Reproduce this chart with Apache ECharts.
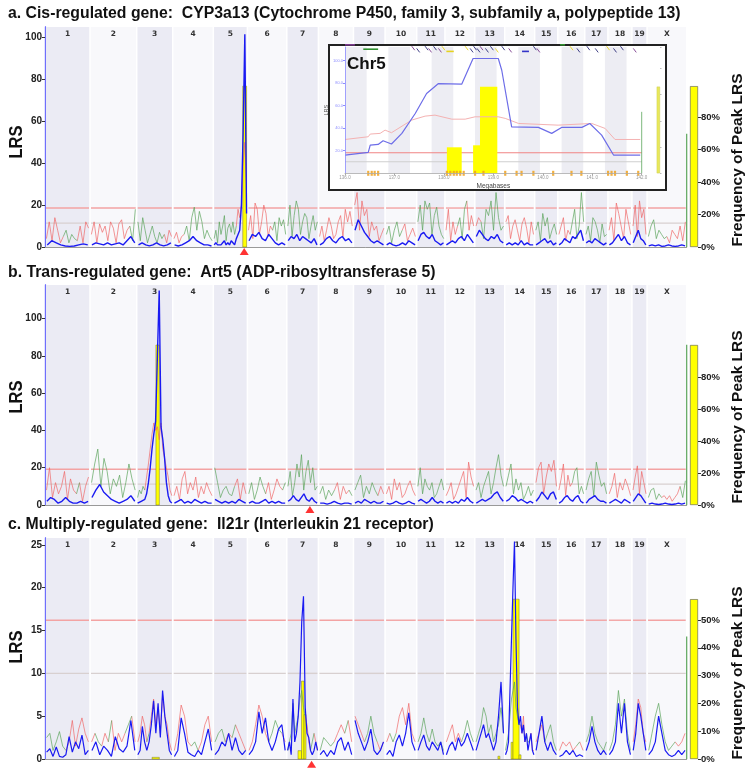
<!DOCTYPE html>
<html><head><meta charset="utf-8">
<script src="https://cdn.jsdelivr.net/npm/echarts@6/dist/echarts.min.js"></script>
<style>html,body{margin:0;padding:0;background:#fff}#c{width:750px;height:773px}</style>
</head><body><div id="c"></div>
<script>
// ---------------- data ----------------
const chromosomes = ['1','2','3','4','5','6','7','8','9','10','11','12','13','14','15','16','17','18','19','X'];
const chrLen = [185,192,148,167,140,162,130,144,130,130,116,123,123,123,95,111,95,99,62,163];

const titleA = 'a. Cis-regulated gene:  CYP3a13 (Cytochrome P450, family 3, subfamily a, polypeptide 13)';
const titleB = 'b. Trans-regulated gene:  Art5 (ADP-ribosyltransferase 5)';
const titleC = 'c. Multiply-regulated gene:  Il21r (Interleukin 21 receptor)';

// Panel a: LRS (blue) and additive effect (signed: + red, - green) per chromosome
const lrsA = [
 [1,3,2,1,0.5,0.3,0.5,1,1.5,1],
 [1,2,1.5,1,2,1,1.5,2,1,3,5,2],
 [1,2,1,0.5,1,2,1,0.5,1,2],
 [1,0.5,1,2,3,5,3,2,1,1,0.5],
 [1,2,1,0.5,1,2,3,1,2,1,3,2,1,4,6,8,20,55,101.5,16],
 [3,6,5,7,4,3,6,4,2,1,2,1],
 [3,5,4,6,3,5,4,3,2,4,1],
 [1,2,4,5,3,2,4,5,3,4,2],
 [8,13,10,7,5,3,2,3,2,1],
 [1,2,1,0.5,1,2,1,3,2,1],
 [3,6,7,5,4,6,3,2,1,2],
 [1,2,3,2,4,5,3,6,4,2],
 [5,8,6,4,3,5,4,6,3,2],
 [1,2,1,2,1,3,1,2,1,1],
 [1,2,3,4,2,3,1,2],
 [1,2,4,3,2,5,4,6,8,3],
 [2,3,2,4,3,2,1,2],
 [1,2,4,6,3,5,2,1],
 [2,5,8,4,3,1],
 [0.5,1,0.5,1,0.3,0.5,1,0.5,0.3,0.5,1,0.5]
];
const addA = [
 [4,12,3,14,8,2,-5,-8,-2,-6,-4,3,10,2,12,9],
 [6,12,2,11,7,10,3,12,9,2,11,13,4,8,-10,-3,-18],
 [-12,-3,-14,-8,-2,-6,-10,-5,-2,-7,-4,6,2,8,5],
 [4,7,2,5,-6,-10,-3,-14,-19,-8,-17,-12,-4,-8,-5,-3],
 [-4,-8,-2,-12,-6,-10,-15,-3,-9,-11,-7,-12,-6,10,18,14,20,40,50,30],
 [8,15,4,21,18,6,12,20,16,5,10,-8,-12,-3,-14,-10,-13,-6],
 [-10,-20,-5,-15,-22,-18,-6,-12,-16,-14,-4,-10,-15,-8,-12],
 [5,10,3,8,14,10,4,6,12,15,5,18,12,17,10],
 [20,26,8,22,15,18,5,12,8,10,3,6,9],
 [-6,-10,-2,-8,-12,-5,8,11,3,6,9,5],
 [-12,-20,-8,-22,-18,-21,-6,-15,-19,-10,-6,-4],
 [8,18,3,12,6,-10,-14,-4,-18,22,8,15,10],
 [10,14,-12,-4,-18,-15,-22,-8,-26,-14,-8,-10],
 [12,15,4,10,13,8,3,11,14,9,2,12,6],
 [-8,-12,-3,-16,-10,-14,-4,-8,-11,-6],
 [6,10,14,3,8,-6,-12,-18,-4,-10,-26,-12],
 [-6,-10,-3,-14,-12,-8,-2,-11,-5,6],
 [8,14,3,21,16,10,4,18,12,6],
 [10,20,5,22,14,18,6],
 [-5,-10,-13,-4,-8,-6,-4,5,2,8,6,4,10,3,12]
];
const peakBarsA = [[813,829,99]];      // [from, to, frequency %]
const sideFreqA = 99;
const edgeA = 54;
const markerA = 819;
const thrA = [18.6, 11.4];

// Panel b
const lrsB = [
 [2,4,3,1,2,4,2,1,1,2,1,2],
 [4,8,11,7,5,3,2,1,2,3,5,2],
 [1,1,2,1,3,6,12,20,30,38,45,80,115,42,35,25,12,5,2,1],
 [1,2,3,1,2,1,3,2,1,2,1,1],
 [3,2,1,2,1,2,1,3,2,1],
 [1,2,1,1,2,3,1,2,1,2,1,1],
 [2,3,5,3,2,4,6,3,2,4,2,1],
 [1,1,0.5,1,2,1,0.5,1,1,0.5],
 [1,2,1,3,2,1,2,1,1,2],
 [1,0.5,1,2,1,0.5,1,2,1,0.5],
 [2,3,2,1,2,4,2,1,2,1],
 [1,2,1,2,1,3,2,4,2,1],
 [1,2,3,2,3,4,6,7,4,2],
 [2,3,5,4,2,3,2,1,2,1],
 [2,4,7,5,3,6,7,3],
 [1,2,4,5,3,2,4,5,2,1],
 [1,3,4,5,3,2,2,1],
 [1,2,3,2,1,3,2,1],
 [2,4,6,5,3,1],
 [0.5,1,0.5,0.3,0.5,1,0.5,0.3,0.5,1,0.5,1]
];
const addB = [
 [8,20,4,12,6,10,18,3,14,8,-6,12,2,10,15],
 [-12,-22,-30,-10,-25,-18,-6,-14,-10,-16,-4,-12,-22,-14,-8],
 [-4,-8,-6,-10,8,15,22,30,38,44,40,42,35,44,30,25,20,15,8,5],
 [5,10,3,14,18,6,12,8,15,4,10,6,12,8,5],
 [-20,-12,-4,-8,-10,-6,-5,10,14,3,12,6],
 [-6,-12,-3,-8,-15,-10,6,12,3,8,14,10,-8,-12],
 [-10,-18,-5,-12,-22,-15,-27,-8,-18,-24,-12,-20,-8,-10],
 [-6,-10,-3,-8,-5,8,12,3,10,6,-8,-5],
 [-8,-12,-16,-4,-10,-6,-12,-8,5,10,6],
 [6,10,3,14,8,12,4,6,10,13,8,5],
 [-10,-20,-6,-14,-10,-8,-12,-4,-6,-10,-14,-8],
 [5,8,12,3,6,10,14,18,4,23,15,10],
 [-8,-12,-4,-10,-14,-18,-6,-12,-20,-27,-16,-10],
 [-10,-16,-22,-6,-14,-8,-12,-3,-6,-10,-5,-8],
 [12,20,23,6,15,22,18,24,10],
 [8,14,22,5,16,10,-12,-18,-20,-6,-10,-6],
 [-8,-14,-18,-5,-23,-16,-10,-12,-6],
 [6,10,17,4,12,8,14,10,5],
 [8,15,21,6,18,12,6],
 [-4,-8,-9,-3,-6,4,5,3,5,2,4,6,-10,-4,-13]
];
const peakBarsB = [[456,470,100]];
const sideFreqB = 100;
const edgeB = 86;
const markerB = 1089;
const thrB = [19.2, 11.2];

// Panel c
const lrsC = [
 [0.8,1.2,0.3,1.4,0.3,0.2,0.5,2.6,0.8,2,1.2,2.8,0.5,1],
 [1,2,0.5,1.5,1,0.3,2.6,1.2,0.8,1.5,4.5,1],
 [0.5,1,3.8,2,1,2,4,6.8,3,6.5,2.5,8,5,3,1,0.5],
 [0.3,1,4.8,3,0.8,0.5,0.3,1,0.5,2,3.5,1],
 [0.5,1,2,1.5,3,1,2.5,1,0.5,1],
 [0.5,1,2,5.5,3,4.8,2,1,2,3.5,4,1],
 [1,2,0.5,7,2,3,5,9,16,19,6,3,2.5,1,0.5,1,2,1],
 [0.5,1,0.3,1,0.5,2,2.5,1,2,0.5],
 [4.5,3,2,1,2,3.5,1,0.5,1,2],
 [0.5,1,0.3,2,2.8,1.5,3,5.4,2,1],
 [1,2,2.8,1.5,1,2,1.5,1,2,0.5],
 [0.5,1.5,2,1,2.5,1.5,2,3,2,1],
 [1,2,3,4,2.5,3,2,1,2,5,9,3],
 [0.5,1,2,8,14,20,25.4,14,6,4,5,3,4,2,3,1,2,3,1,0.5],
 [1,3,5,2,1,2,1,0.5],
 [0.3,0.5,1,0.5,1,0.3,0.5,0.3],
 [1,2,3.8,2,1,0.5,1,0.5],
 [0.5,1,2,6.5,3,6.5,2,0.5],
 [1,3,6.5,5,3,1],
 [0.5,1,2,5,3,1,0.5,0.3,0.5,1,0.5,1]
];
const addC = [
 [-2.5,-3,-1,-2,-3.2,-1.5,1,2,4.5,1.5,3.5,4.8,3,2],
 [2,-3,-2,1.5,3,-2,4.5,1,3,2,-3,-4,5,2],
 [2,3,5,4,-2,3,5,7,4,6,3,7.5,5,4,2,1],
 [1,3,6.3,5,2,-1.5,-2,1,2,4,5,2],
 [-2,-3,-3.5,2,3,-2.5,4,3,2,1],
 [1,2,4,6.3,5,3,-2,-3,-4.5,-3.5,3,2],
 [-1,-2,-3,-6.5,-3,-4,-5,-7,-8,-6,5,4,2,-1,-2,3,2,1],
 [-1,-2.5,-2,-1.5,2,3,4,-3,4.5,2],
 [5,4,3,-2,-3,-5,-3,2,1,-2],
 [2,-3,-2,3,5,6,4,6.5,3,2],
 [-2,-3,-4.8,-3,-2,-3.5,-2,-1.5,-2,-1],
 [2,3,4,2,3,-2,-3,-4.5,-3,-2],
 [-2,-3,-4,-6,-5,-3,-4,-2,-3,-4,-6,-3],
 [-1,-2,-3,-5,-7,-8,-9,-6,-5,-4,4,3,5,2,-3,-2,2,3,1,1],
 [2,3,4,-2,-3,-4,-2,-1],
 [1,2,1.5,2,1,-1.5,2,1],
 [-2,-3,-5,-3,-2,-1.5,-1,-2],
 [-1,-2,-4,-8,-5,-7,-3,-1],
 [2,4,7,6,3,2],
 [-1,-3,-5,-6.5,-4,-2,-1,-1.5,2,1.5,2,3]
];
const peakBarsC = [[440,470,0.6],[1040,1054.5,3],[1054.5,1065,28],[1065,1073,16],[1862,1870,1],[1916,1924,6],[1924,1949,57.5],[1949,1957,1.5]];
const sideFreqC = 57.5;
const edgeC = 14.3;
const markerC = 1096;
const thrC = [16.2, 10];

const lrsTicksAB = [0,20,40,60,80,100];
const lrsTicksC = [0,5,10,15,20,25];
const freqTicksAB = [0,20,40,60,80];
const freqTicksC = [0,10,20,30,40,50];

// Inset (Chr5 detail of panel a)
const insetLrsMb = [136.0,136.47,136.51,136.67,136.77,136.94,137.15,137.42,137.65,137.89,138.36,138.59,139.10,139.17,139.37,139.91,140.18,140.38,140.79,140.95,141.19,141.43,141.97];
const insetLrs   = [16.2,18.6,25,25.6,28.9,26,35.4,53,70.8,79.6,79,101.8,101.8,91.4,41.2,40.7,35.4,40.7,40.7,44.2,33.9,16.2,16.2];
const insetAddMb = [136.0,136.47,136.51,136.71,136.81,136.94,137.35,137.62,137.82,138.16,138.43,138.63,139.10,139.24,139.51,140.31,140.99,141.26,141.46,141.97];
const insetAdd   = [30,32.4,34.8,35.4,38.3,36,47.2,50.7,51.6,48,48,50.1,50.1,48.7,44.2,42.7,44.2,39.8,30,30];
const insetBars  = [[138.06,138.36,29.7],[138.59,138.73,32],[138.73,139.08,99]];
const insetThr   = [18.2, 10.3];
const insetSnpMb = [136.47,136.54,136.6,136.67,138.06,138.13,138.2,138.26,138.33,138.4,138.63,138.8,139.24,139.47,139.57,139.81,140.21,140.58,140.78,141.32,141.39,141.46,141.7,141.93];
const insetEdge  = 54.5;
const insetSideFreq = 99;
const insetTicksMb = [136,137,138,139,140,141,142];
// genes drawn in the track above the inset plot: [Mb start, Mb end, row, colour index, kind(0 = slanted, 1 = bar)]
const insetGenes = [
 [136.0,136.2,0,1,1],[136.37,136.67,2,4,1],[137.38,137.38,1,1,0],[137.48,137.48,2,0,0],[137.65,137.65,1,0,0],
 [137.72,137.72,2,1,0],[137.82,137.82,1,0,0],[137.92,137.92,2,1,0],[137.99,137.99,1,2,0],[138.05,138.2,3,2,1],
 [138.46,138.46,1,2,0],[138.56,138.56,2,0,0],[138.63,138.63,1,0,0],[138.70,138.70,2,0,0],[138.76,138.76,1,1,0],
 [138.87,138.87,2,0,0],[138.97,138.97,1,0,0],[139.07,139.07,2,2,0],[139.20,139.20,1,0,0],[139.34,139.34,2,1,0],
 [139.58,139.72,3,3,1],[139.84,139.84,1,0,0],[139.91,139.91,2,1,0],[140.35,140.45,0,4,1],[140.58,140.58,1,2,0],
 [140.72,140.72,2,0,0],[140.92,140.92,1,0,0],[141.09,141.09,2,0,0],[141.32,141.32,1,2,0],[141.46,141.46,2,0,0],
 [141.60,141.60,1,0,0],[141.86,141.86,2,1,0]
];
const geneColors = ['#2b2b78','#7a3a8c','#e6d21e','#3434c8','#2f8f2f'];

// ---------------- helpers ----------------
const chrStart = []; let acc = 0;
chrLen.forEach(l => { chrStart.push(acc); acc += l; });
const genomeLen = acc;
const FONT = 'Liberation Sans';

function blueData(arrs) {
  const out = [];
  arrs.forEach((vals, k) => {
    const s = chrStart[k], L = chrLen[k], N = vals.length;
    vals.forEach((v, i) => out.push([s + (i + 0.5) / N * L, v]));
    out.push([s + L, '-']);
  });
  return out;
}
function addData(arrs, positive) {
  const out = [];
  arrs.forEach((vals, k) => {
    const s = chrStart[k], L = chrLen[k], N = vals.length;
    const xs = vals.map((v, i) => s + (i + 0.5) / N * L);
    let open = false;
    for (let i = 0; i < N - 1; i++) {
      const mine = positive ? vals[i] > 0 : vals[i] < 0;
      if (mine) {
        if (!open) { out.push([xs[i], Math.abs(vals[i])]); open = true; }
        out.push([xs[i + 1], Math.abs(vals[i + 1])]);
      } else if (open) { out.push([xs[i], '-']); open = false; }
    }
    if (open) out.push([s + L, '-']);
  });
  return out;
}
const chrRows = chromosomes.map((c, k) => [chrStart[k], chrStart[k] + chrLen[k], k]);

function bandsRender(thr, yMax) {
  return function (params, api) {
    const s = api.value(0), e = api.value(1), k = api.value(2);
    const tl = api.coord([s, yMax]), br = api.coord([e, 0]);
    const children = [{ type: 'rect', shape: { x: tl[0] + 0.75, y: tl[1], width: br[0] - tl[0] - 1.5, height: br[1] - tl[1] },
      style: { fill: k % 2 === 0 ? '#ebebf4' : '#f8f8fb' } }];
    thr.forEach((t, j) => {
      const y = api.coord([s, t])[1];
      children.push({ type: 'line', shape: { x1: tl[0] + 1, y1: y, x2: br[0] - 1, y2: y },
        style: { stroke: j === 0 ? '#f3a3a3' : '#d8d0d0', lineWidth: 1.4 } });
    });
    children.push({ type: 'text', style: { text: chromosomes[k], x: (tl[0] + br[0]) / 2, y: tl[1] + 3,
      align: 'center', verticalAlign: 'top', fontFamily: 'DejaVu Sans', fontWeight: 'bold', fontSize: 7.5, fill: '#333' } });
    return { type: 'group', children };
  };
}
function barsRender(params, api) {
  const a = api.coord([api.value(0), api.value(2)]), b = api.coord([api.value(1), 0]);
  return { type: 'rect', shape: { x: a[0], y: a[1], width: b[0] - a[0], height: b[1] - a[1] },
    style: { fill: '#ffff00', stroke: '#76762a', lineWidth: 0.5 } };
}

const panels = [
  { top: 27, height: 220, yMax: 105, freqMax: 135.4, lrs: lrsA, add: addA, bars: peakBarsA, side: sideFreqA, edge: edgeA,
    marker: markerA, markerY: -2.1, thr: thrA, lrsTicks: lrsTicksAB, freqTicks: freqTicksAB, title: titleA, titleY: 14, lrsY: 142, fplY: 160, blueW: 1.4 },
  { top: 285, height: 220, yMax: 118, freqMax: 137.5, lrs: lrsB, add: addB, bars: peakBarsB, side: sideFreqB, edge: edgeB,
    marker: markerB, markerY: -2.4, thr: thrB, lrsTicks: lrsTicksAB, freqTicks: freqTicksAB, title: titleB, titleY: 273, lrsY: 397, fplY: 417, blueW: 1.4 },
  { top: 538, height: 221, yMax: 25.8, freqMax: 79.5, lrs: lrsC, add: addC, bars: peakBarsC, side: sideFreqC, edge: edgeC,
    marker: markerC, markerY: -0.6, thr: thrC, lrsTicks: lrsTicksC, freqTicks: freqTicksC, title: titleC, titleY: 525, lrsY: 647, fplY: 673, blueW: 1.2 }
];

const grid = [], xAxis = [], yAxis = [], series = [], graphic = [];
panels.forEach((p, i) => {
  const gMain = grid.length;
  grid.push({ left: 45, top: p.top, width: 641.7, height: p.height });
  grid.push({ left: 690, top: p.top, width: 8, height: p.height });
  const xMain = xAxis.length;
  xAxis.push({ gridIndex: gMain, type: 'value', min: 0, max: genomeLen, axisLine: { show: true, lineStyle: { color: '#999', width: 1 } },
    axisTick: { show: false }, axisLabel: { show: false }, splitLine: { show: false } });
  xAxis.push({ gridIndex: gMain + 1, type: 'category', data: ['max'], show: false });
  const yL = yAxis.length;
  yAxis.push({ gridIndex: gMain, type: 'value', min: 0, max: p.yMax,
    axisLine: { show: true, lineStyle: { color: '#4646ff', width: 1.3 } },
    axisTick: { show: true, length: 3, customValues: p.lrsTicks, lineStyle: { color: '#333' } },
    axisLabel: { customValues: p.lrsTicks, fontFamily: FONT, fontWeight: 'bold', fontSize: 10, color: '#222', margin: 3 },
    splitLine: { show: false } });
  yAxis.push({ gridIndex: gMain, type: 'value', min: 0, max: p.freqMax, show: false });
  yAxis.push({ gridIndex: gMain + 1, type: 'value', min: 0, max: p.freqMax, position: 'right',
    axisLine: { show: false },
    axisTick: { show: true, length: 3, customValues: p.freqTicks, lineStyle: { color: '#333' } },
    axisLabel: { customValues: p.freqTicks, formatter: '{value}%', fontFamily: FONT, fontWeight: 'bold', fontSize: 9.5, color: '#222', margin: 3 },
    splitLine: { show: false } });

  series.push({ type: 'custom', xAxisIndex: xMain, yAxisIndex: yL, data: chrRows, encode: { x: [0, 1], y: 2 },
    renderItem: bandsRender(p.thr, p.yMax), silent: true, z: 1 });
  series.push({ type: 'custom', xAxisIndex: xMain, yAxisIndex: yL + 1, data: p.bars, encode: { x: [0, 1], y: 2 },
    renderItem: barsRender, silent: true, z: 2 });
  series.push({ type: 'line', name: 'additive +', xAxisIndex: xMain, yAxisIndex: yL, data: addData(p.add, true),
    symbol: 'none', connectNulls: false, lineStyle: { color: '#ee6464', width: 0.8, opacity: 0.85 }, z: 3, silent: true });
  series.push({ type: 'line', name: 'additive -', xAxisIndex: xMain, yAxisIndex: yL, data: addData(p.add, false),
    symbol: 'none', connectNulls: false, lineStyle: { color: '#58a258', width: 0.8, opacity: 0.85 }, z: 3, silent: true });
  series.push({ type: 'line', name: 'LRS', xAxisIndex: xMain, yAxisIndex: yL, data: blueData(p.lrs),
    symbol: 'none', connectNulls: false, lineStyle: { color: '#1a1af2', width: p.blueW }, z: 4, silent: true });
  series.push({ type: 'line', xAxisIndex: xMain, yAxisIndex: yL, data: [[genomeLen, 0], [genomeLen, p.edge]], clip: false,
    symbol: 'none', lineStyle: { color: '#5aa55a', width: 1.2 }, z: 4, silent: true });
  series.push({ type: 'scatter', xAxisIndex: xMain, yAxisIndex: yL, data: [[p.marker, p.markerY]], clip: false,
    symbol: 'triangle', symbolSize: [9, 7], itemStyle: { color: '#ff0000' }, z: 5, silent: true });
  series.push({ type: 'bar', xAxisIndex: xMain + 1, yAxisIndex: yL + 2, data: [p.side], barWidth: '100%',
    itemStyle: { color: '#ffff00', borderColor: '#555', borderWidth: 0.6 }, silent: true });

  graphic.push({ type: 'text', x: 8, y: p.titleY, style: { text: p.title, x: 0, y: 0, textVerticalAlign: 'middle',
    fontFamily: FONT, fontWeight: 'bold', fontSize: 15.8, fill: '#111' } });
  graphic.push({ type: 'text', x: 17, y: p.lrsY, rotation: Math.PI / 2, scaleX: 0.92, style: { text: 'LRS', x: 0, y: 0,
    textAlign: 'center', textVerticalAlign: 'middle', fontFamily: FONT, fontWeight: 'bold', fontSize: 18, fill: '#111' } });
  graphic.push({ type: 'text', x: 738, y: p.fplY, rotation: Math.PI / 2, style: { text: 'Frequency of Peak LRS', x: 0, y: 0,
    textAlign: 'center', textVerticalAlign: 'middle', fontFamily: FONT, fontWeight: 'bold', fontSize: 15.5, fill: '#111' } });
});

// ---------------- inset ----------------
const gIn = grid.length;
grid.push({ left: 345, top: 47, width: 296.7, height: 126.3 });
grid.push({ left: 656.7, top: 47, width: 3.3, height: 126.3 });
const xIn = xAxis.length;
xAxis.push({ gridIndex: gIn, type: 'value', min: 136, max: 142, z: 70,
  axisLine: { show: true, lineStyle: { color: '#aaa', width: 0.8 } },
  axisTick: { show: true, length: 2, customValues: insetTicksMb, lineStyle: { color: '#aaa' } },
  axisLabel: { customValues: insetTicksMb, formatter: v => v.toFixed(1), fontSize: 4.5, color: '#999', margin: 2 },
  name: 'Megabases', nameLocation: 'middle', nameGap: 9, nameTextStyle: { fontSize: 6.5, color: '#444', fontFamily: FONT },
  splitLine: { show: false } });
xAxis.push({ gridIndex: gIn + 1, type: 'category', data: ['max'], show: false });
const yIn = yAxis.length;
yAxis.push({ gridIndex: gIn, type: 'value', min: 0, max: 112, z: 70,
  axisLine: { show: true, lineStyle: { color: '#8c8cff', width: 0.8 } },
  axisTick: { show: true, length: 2, customValues: [20, 40, 60, 80, 100], lineStyle: { color: '#8c8cff' } },
  axisLabel: { customValues: [20, 40, 60, 80, 100], formatter: v => v.toFixed(1), fontSize: 4, color: '#8c8cff', margin: 2 },
  name: 'LRS', nameLocation: 'middle', nameGap: 10, nameTextStyle: { fontSize: 5.5, color: '#555', fontFamily: FONT },
  splitLine: { show: false } });
yAxis.push({ gridIndex: gIn, type: 'value', min: 0, max: 144.3, show: false });
yAxis.push({ gridIndex: gIn + 1, type: 'value', min: 0, max: 144.3, position: 'right', z: 70,
  axisLine: { show: false }, axisTick: { show: true, length: 1.5, lineStyle: { color: '#bbb' } },
  axisLabel: { show: false }, splitLine: { show: false } });

const stripes = [];
for (let s = 136; s < 142; s += 0.876) stripes.push([s, Math.min(s + 0.438, 142), 0]);
series.push({ type: 'custom', xAxisIndex: xIn, yAxisIndex: yIn, data: stripes, encode: { x: [0, 1], y: 2 }, z: 60, silent: true,
  renderItem: (params, api) => {
    const a = api.coord([api.value(0), 112]), b = api.coord([api.value(1), 0]);
    return { type: 'rect', shape: { x: a[0], y: a[1], width: b[0] - a[0], height: b[1] - a[1] }, style: { fill: '#ededf3' } };
  } });
series.push({ type: 'line', xAxisIndex: xIn, yAxisIndex: yIn, symbol: 'none', z: 61, silent: true,
  data: [[136, insetThr[0]], [142, insetThr[0]]], lineStyle: { color: '#f08585', width: 1.1 } });
series.push({ type: 'line', xAxisIndex: xIn, yAxisIndex: yIn, symbol: 'none', z: 61, silent: true,
  data: [[136, insetThr[1]], [142, insetThr[1]]], lineStyle: { color: '#cfcfcf', width: 1.1 } });
series.push({ type: 'custom', xAxisIndex: xIn, yAxisIndex: yIn + 1, data: insetBars, encode: { x: [0, 1], y: 2 }, z: 62, silent: true,
  renderItem: (params, api) => {
    const a = api.coord([api.value(0), api.value(2)]), b = api.coord([api.value(1), 0]);
    return { type: 'rect', shape: { x: a[0], y: a[1], width: b[0] - a[0], height: b[1] - a[1] }, style: { fill: '#ffff00' } };
  } });
series.push({ type: 'line', xAxisIndex: xIn, yAxisIndex: yIn, symbol: 'none', z: 63, silent: true,
  data: insetAddMb.map((m, i) => [m, insetAdd[i]]), lineStyle: { color: '#f4b2b2', width: 1 } });
series.push({ type: 'line', xAxisIndex: xIn, yAxisIndex: yIn, symbol: 'none', z: 64, silent: true,
  data: insetLrsMb.map((m, i) => [m, insetLrs[i]]), lineStyle: { color: '#6d6de8', width: 1.2 } });
series.push({ type: 'scatter', xAxisIndex: xIn, yAxisIndex: yIn, symbol: 'rect', symbolSize: [2.2, 5], clip: false, z: 65, silent: true,
  data: insetSnpMb.map(m => [m, 0]), itemStyle: { color: '#f0a21e', opacity: 0.85 } });
series.push({ type: 'line', xAxisIndex: xIn, yAxisIndex: yIn, symbol: 'none', clip: false, z: 65, silent: true,
  data: [[142, 0], [142, insetEdge]], lineStyle: { color: '#5aa55a', width: 0.8 } });
series.push({ type: 'bar', xAxisIndex: xIn + 1, yAxisIndex: yIn + 2, data: [insetSideFreq], barWidth: '100%', z: 65, silent: true,
  itemStyle: { color: '#e8e85a', borderColor: '#c8c850', borderWidth: 0.4 } });
// gene track above the inset plot
series.push({ type: 'custom', xAxisIndex: xIn, yAxisIndex: yIn, data: insetGenes, encode: { x: [0, 1], y: 2 }, z: 66, silent: true, clip: false,
  renderItem: (params, api) => {
    const s = api.value(0), e = api.value(1), row = api.value(2), ci = api.value(3), kind = api.value(4);
    const top = api.coord([136, 112])[1];
    const y = top - 3 + row * 2.2;
    const x0 = api.coord([s, 0])[0], x1 = api.coord([e, 0])[0];
    const col = geneColors[ci];
    if (kind === 1) return { type: 'rect', shape: { x: x0, y: y, width: Math.max(x1 - x0, 2), height: 1.6 }, style: { fill: col } };
    return { type: 'line', shape: { x1: x0 - 1.5, y1: y, x2: x0 + 1.5, y2: y + 4 }, style: { stroke: col, lineWidth: 0.9 } };
  } });

graphic.push({ type: 'rect', z: 50, shape: { x: 329, y: 45, width: 337, height: 145 },
  style: { fill: '#fff', stroke: '#222', lineWidth: 2 } });
graphic.push({ type: 'text', z: 80, x: 347, y: 64, style: { text: 'Chr5', x: 0, y: 0, textVerticalAlign: 'middle',
  fontFamily: FONT, fontWeight: 'bold', fontSize: 17, fill: '#111' } });

const chart = echarts.init(document.getElementById('c'), null, { renderer: 'canvas' });
chart.setOption({ backgroundColor: '#fff', animation: false, grid, xAxis, yAxis, series, graphic });
</script>
</body></html>
